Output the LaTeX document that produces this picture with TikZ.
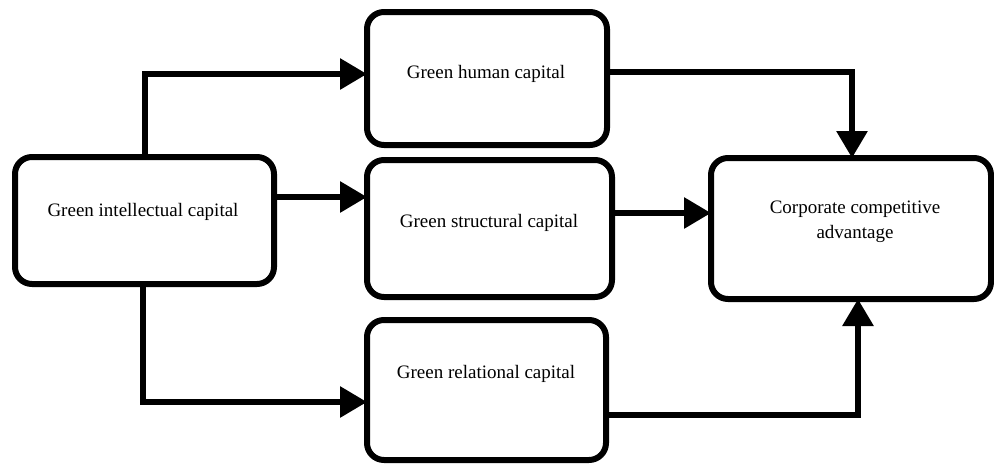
\documentclass[tikz,border=0pt]{standalone}
\usepackage{fontspec}
\setmainfont{Liberation Serif}
\newfontfamily\diagfont{Liberation Serif}
\usetikzlibrary{arrows.meta}
\begin{document}
\begin{tikzpicture}[x=1pt,y=-1pt,
  box/.style={draw=black, line width=6pt, rounded corners=17pt, fill=white,
    minimum width=#1, inner sep=0pt, outer sep=0pt},
  lbl/.style={anchor=base, inner sep=0pt, font=\diagfont\fontsize{19}{25}\selectfont, align=center},
  arr/.style={line width=6pt, -{Triangle[length=27pt,width=30pt]}}]
\useasboundingbox (0,0) rectangle (994,464);
\node[box=259pt, minimum height=127pt] (gic) at (144.5,220.5) {};
\node[box=240pt, minimum height=133pt] (hum) at (487,78.5) {};
\node[box=245pt, minimum height=137pt] (str) at (489.5,228.5) {};
\node[box=239pt, minimum height=140pt] (rel) at (486.5,390) {};
\node[box=280pt, minimum height=141pt] (cca) at (851,228.5) {};
\node[lbl] (gict) at (143,216) {Green intellectual capital};
\node[lbl] (humt) at (486,78) {Green human capital};
\node[lbl] (strt) at (489,227) {Green structural capital};
\node[lbl] (relt) at (486,378) {Green relational capital};
\node[lbl] (ccat1) at (855,213) {Corporate competitive};
\node[lbl] (ccat2) at (855,238) {advantage};
\draw[arr] (gic.north) |- ([yshift=4.5pt]hum.west);
\draw[arr] ([yshift=23.5pt]gic.east) -- ([yshift=23.5pt]gic.east -| str.west);
\draw[arr] ([xshift=-1.5pt]gic.south) |- ([yshift=-12pt]rel.west);
\draw[arr] ([yshift=6.5pt]hum.east) -| ([xshift=1pt]cca.north);
\draw[arr] ([yshift=15.5pt]str.east) -- ([yshift=15.5pt]str.east -| cca.west);
\draw[arr] ([yshift=-25pt]rel.east) -| ([xshift=7pt]cca.south);
\end{tikzpicture}
\end{document}
